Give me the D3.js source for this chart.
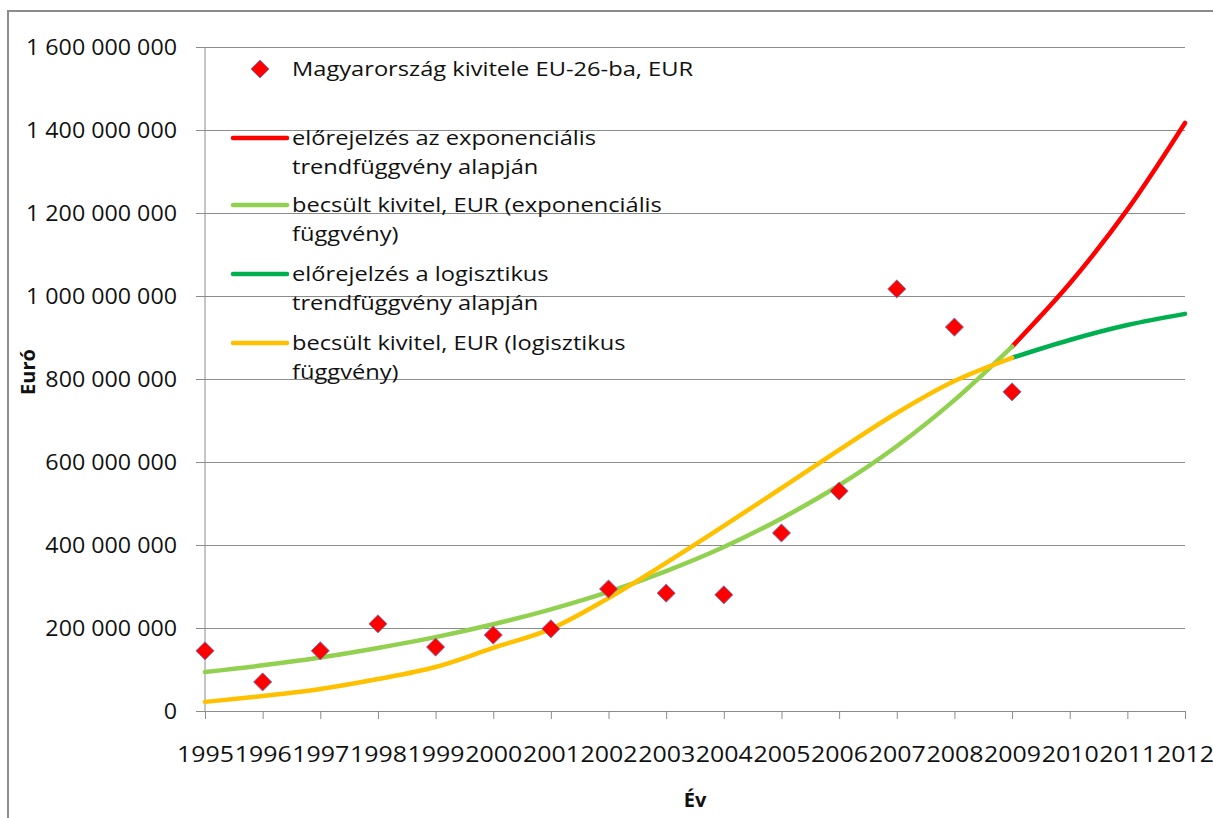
<!DOCTYPE html>
<html>
<head>
<meta charset="utf-8">
<script src="https://cdn.jsdelivr.net/npm/d3@7"></script>
<style>
  body { margin: 0; background: #fff; }
  svg { display: block; font-family: "Open Sans", sans-serif; }
</style>
</head>
<body>
<svg id="chart" width="1213" height="818"></svg>
<script>
// ---- data (millions of EUR) ----
const years = [1995, 1996, 1997, 1998, 1999, 2000, 2001, 2002, 2003, 2004, 2005, 2006, 2007, 2008, 2009];
const exportActual = [145, 70, 145, 210, 154, 183, 198, 294, 284, 280, 429, 530, 1017, 925, 769];
const expFitted = [94, 110, 129, 152, 178, 209, 245, 287, 337, 395, 464, 544, 638, 749, 878];
const logFitted = [22, 36, 53, 77, 106, 152, 198, 272, 357, 446, 537, 629, 718, 795, 851];
const forecastYears = [2009, 2010, 2011, 2012];
const expForecast = [878, 1030, 1208, 1417];
const logForecast = [851, 894, 930, 957];
const allYears = d3.range(1995, 2013);
const yTicks = [0, 200, 400, 600, 800, 1000, 1200, 1400, 1600];

const legendItems = [
  { type: "dot", color: "#ff0000", lines: ["Magyarország kivitele EU-26-ba, EUR"] },
  { type: "line", color: "#ff0000", lines: ["előrejelzés az exponenciális", "trendfüggvény alapján"] },
  { type: "line", color: "#92d050", lines: ["becsült kivitel, EUR (exponenciális", "függvény)"] },
  { type: "line", color: "#00b050", lines: ["előrejelzés a logisztikus", "trendfüggvény alapján"] },
  { type: "line", color: "#ffc000", lines: ["becsült kivitel, EUR (logisztikus", "függvény)"] }
];

const svg = d3.select("#chart");
const margin = { top: 47, left: 205, right: 28, bottom: 107 };
const width = 1213 - margin.left - margin.right,
  height = 818 - margin.top - margin.bottom;

// stretch text horizontally so that the widest label gets the wanted width
function stretchTo(sel, targetWidth) {
  let maxW = 0;
  sel.each(function () { maxW = Math.max(maxW, this.getComputedTextLength()); });
  const k = targetWidth / maxW;
  sel.each(function () {
    d3.select(this)
      .attr("textLength", this.getComputedTextLength() * k)
      .attr("lengthAdjust", "spacingAndGlyphs");
  });
}

// outer chart border
svg.append("rect")
  .attr("x", 8).attr("y", 11)
  .attr("width", 1240).attr("height", 840)
  .attr("fill", "none").attr("stroke", "#8c8c8c").attr("stroke-width", 2);

const x = d3.scaleLinear().domain([1995, 2012]).range([0, width]);
const y = d3.scaleLinear().domain([0, 1600]).range([height, 0]);

const g = svg.append("g").attr("transform", `translate(${margin.left},${margin.top})`);

// gridlines + y labels
const yAxis = g.append("g")
  .call(d3.axisLeft(y).tickValues(yTicks).tickSizeInner(-width).tickSizeOuter(0)
    .tickFormat(d => d === 0 ? "0" : d3.format(",")(d * 1e6).replace(/,/g, " ")))
  .call(ax => ax.select(".domain").remove())
  .call(ax => ax.selectAll("line").attr("stroke", "#8c8c8c").attr("x1", -9).attr("x2", width))
  .call(ax => ax.selectAll("text").attr("x", -28).attr("dy", "0.36em")
    .attr("font-size", 21).attr("fill", "#111")
    .attr("font-family", "Open Sans, sans-serif"));
stretchTo(yAxis.selectAll("text"), 151);

// y axis line
g.append("line").attr("x1", 0).attr("x2", 0).attr("y1", 0).attr("y2", height)
  .attr("stroke", "#8c8c8c");

// x axis
const xAxis = g.append("g")
  .attr("transform", `translate(0,${height})`)
  .call(d3.axisBottom(x).tickValues(allYears).tickSize(8).tickSizeOuter(0).tickFormat(d3.format("d")))
  .call(ax => ax.select(".domain").attr("stroke", "#8c8c8c"))
  .call(ax => ax.selectAll("line").attr("stroke", "#8c8c8c"))
  .call(ax => ax.selectAll("text").attr("y", 43).attr("dy", "0.36em")
    .attr("font-size", 21).attr("fill", "#111")
    .attr("font-family", "Open Sans, sans-serif"));
stretchTo(xAxis.selectAll("text"), 57);

// axis titles
svg.append("text").attr("x", 695).attr("y", 807)
  .attr("text-anchor", "middle").attr("font-weight", "bold").attr("font-size", 20)
  .attr("fill", "#111")
  .text("Év");
svg.append("text")
  .attr("transform", "translate(35,372) rotate(-90)")
  .attr("text-anchor", "middle")
  .attr("font-weight", "bold").attr("font-size", 20).attr("fill", "#111")
  .text("Euró");

// lines
const line = d3.line().x(d => x(d[0])).y(d => y(d[1])).curve(d3.curveCatmullRom);
function drawSeries(xs, ys, color) {
  g.append("path")
    .datum(xs.map((d, i) => [d, ys[i]]))
    .attr("d", line)
    .attr("fill", "none")
    .attr("stroke", color)
    .attr("stroke-width", 4.5)
    .attr("stroke-linecap", "round");
}
drawSeries(forecastYears, expForecast, "#ff0000");
drawSeries(years, expFitted, "#92d050");
drawSeries(forecastYears, logForecast, "#00b050");
drawSeries(years, logFitted, "#ffc000");

// markers: rotated squares
const diamond = d3.symbol().type(d3.symbolSquare).size(165);
g.selectAll(".pt")
  .data(years.map((d, i) => [d, exportActual[i]]))
  .enter()
  .append("path")
  .attr("class", "pt")
  .attr("d", diamond)
  .attr("transform", d => `translate(${x(d[0])},${y(d[1])}) rotate(45)`)
  .attr("fill", "#ff0000")
  .attr("stroke", "#6a7fb8")
  .attr("stroke-width", 0.8);

// legend
const legend = svg.append("g");
const legendTop = [69, 138, 205, 274, 343];
legendItems.forEach((item, i) => {
  const ly = legendTop[i];
  if (item.type === "dot") {
    legend.append("path").attr("d", diamond)
      .attr("transform", `translate(260,${ly}) rotate(45)`)
      .attr("fill", "#ff0000").attr("stroke", "#6a7fb8").attr("stroke-width", 0.8);
  } else {
    legend.append("line").attr("x1", 233).attr("x2", 287).attr("y1", ly).attr("y2", ly)
      .attr("stroke", item.color).attr("stroke-width", 4.5).attr("stroke-linecap", "round");
  }
  item.lines.forEach((t, j) => {
    legend.append("text")
      .attr("class", "legend-text")
      .attr("x", 292).attr("y", ly + j * 29).attr("dy", "0.36em")
      .attr("font-size", 20).attr("fill", "#111")
      .text(t);
  });
});
stretchTo(legend.selectAll(".legend-text"), 401);
</script>
</body>
</html>
